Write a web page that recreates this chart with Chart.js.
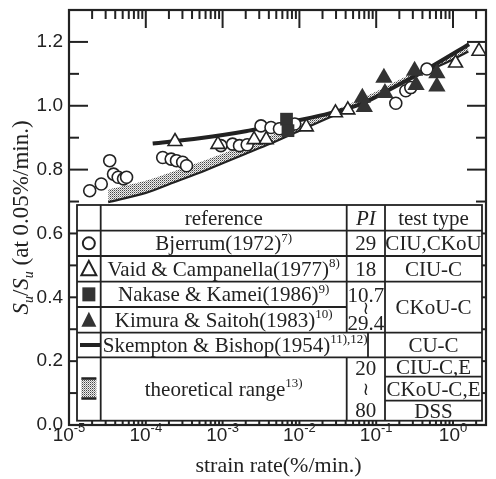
<!DOCTYPE html>
<html>
<head>
<meta charset="utf-8">
<script src="https://cdn.jsdelivr.net/npm/chart.js@4.4.0/dist/chart.umd.min.js"></script>
<style>
  body { margin: 0; background: #fff; }
  #wrap { width: 496px; height: 479px; }
</style>
</head>
<body>
<div id="wrap"><canvas id="rateChart" width="496" height="479"></canvas></div>
<script>
// values: x = strain rate (%/min.), y = Su/Su(0.05%/min.)
const bjerrumX = [1.86e-5, 2.63e-5, 3.39e-5, 3.80e-5, 4.37e-5, 5.13e-5, 5.62e-5, 1.66e-4, 2.14e-4, 2.51e-4, 3.02e-4, 3.39e-4,
  9.5e-4, 1.35e-3, 1.66e-3, 2.09e-3, 3.16e-3, 4.27e-3, 5.5e-3, 8.7e-3, 0.18, 0.243, 0.282, 0.457];
const bjerrumY = [0.734, 0.755, 0.828, 0.786, 0.776, 0.771, 0.776, 0.838, 0.833, 0.828, 0.823, 0.812,
  0.875, 0.88, 0.875, 0.878, 0.937, 0.932, 0.928, 0.943, 1.008, 1.047, 1.057, 1.115];

const vaidX = [2.4e-4, 8.7e-4, 2.57e-3, 3.7e-3, 0.0123, 0.0295, 0.0427, 1.08, 2.18];
const vaidY = [0.888, 0.879, 0.894, 0.894, 0.934, 0.978, 0.987, 1.134, 1.171];

const nakaseX = [6.8e-3, 7.1e-3];
const nakaseY = [0.958, 0.922];

const kimuraX = [0.066, 0.07, 0.126, 0.13, 0.316, 0.33, 0.617, 0.617];
const kimuraY = [1.025, 0.996, 1.088, 1.04, 1.11, 1.065, 1.102, 1.06];

const skemptonX = [1.23e-4, 5.0e-4, 2.0e-3, 9.1e-3, 0.0245, 0.063, 0.148, 0.5, 1.62];
const skemptonY = [0.882, 0.898, 0.92, 0.953, 0.976, 1.005, 1.05, 1.12, 1.193];

const theoryLowX = [3.24e-5, 1e-4, 2.04e-4, 5.0e-4, 1e-3, 2.0e-3, 4.07e-3, 0.01, 0.0316, 0.1, 0.316, 1, 1.585];
const theoryLowY = [0.698, 0.727, 0.755, 0.79, 0.82, 0.85, 0.88, 0.922, 0.975, 1.03, 1.09, 1.145, 1.17];
const theoryHighX = [2.75e-5, 1e-4, 2.04e-4, 5.0e-4, 1e-3, 3.16e-3, 0.01, 0.0316, 0.1, 0.316, 1, 1.585];
const theoryHighY = [0.734, 0.765, 0.79, 0.823, 0.85, 0.895, 0.942, 0.99, 1.045, 1.105, 1.16, 1.185];

const xDecades = [-5, -4, -3, -2, -1, 0];
const yTickLabels = ['0.0', '0.2', '0.4', '0.6', '0.8', '1.0', '1.2'];

const pts = (xs, ys) => xs.map((x, i) => ({ x: x, y: ys[i] }));

const INK = '#222';
const MARK = '#333';
const SERIF = '"Liberation Serif", "Times New Roman", serif';
const SANS = '"Liberation Sans", Arial, sans-serif';

const canvas = document.getElementById('rateChart');
const ctx = canvas.getContext('2d');

// dotted fill for the theoretical band
function makeStipple() {
  const c = document.createElement('canvas');
  c.width = 2; c.height = 2;
  const g = c.getContext('2d');
  g.fillStyle = '#eee'; g.fillRect(0, 0, 2, 2);
  g.fillStyle = '#444'; g.fillRect(0, 0, 1, 1);
  g.fillStyle = '#999'; g.fillRect(1, 1, 1, 1);
  return ctx.createPattern(c, 'repeat');
}
const stipple = makeStipple();

// text with superscripts / subscripts / italics
function richWidth(c, parts, size) {
  let w = 0;
  parts.forEach(p => {
    const s = p.sup || p.sub ? Math.round(size * 0.62) : size;
    c.font = (p.it ? 'italic ' : '') + s + 'px ' + (p.font || SERIF);
    w += c.measureText(p.t).width;
  });
  return w;
}
function drawRich(c, parts, x, y, size, align) {
  const w = richWidth(c, parts, size);
  let cx = align === 'left' ? x : x - w / 2;
  c.textAlign = 'left';
  c.textBaseline = 'alphabetic';
  parts.forEach(p => {
    const s = p.sup || p.sub ? Math.round(size * 0.62) : size;
    c.font = (p.it ? 'italic ' : '') + s + 'px ' + (p.font || SERIF);
    let dy = 0;
    if (p.sup) dy = -size * 0.42;
    if (p.sub) dy = size * 0.22;
    c.fillText(p.t, cx, y + dy);
    cx += c.measureText(p.t).width;
  });
}

function seg(c, x1, y1, x2, y2) {
  c.beginPath(); c.moveTo(x1, y1); c.lineTo(x2, y2); c.stroke();
}

function drawTable(c) {
  const L = 77, C1 = 100.7, C2 = 346.7, C3 = 385, R = 482;
  const rows = [205, 230.7, 256, 281.7, 307, 332.7, 357.3, 420.7];
  const mid = i => (rows[i] + rows[i + 1]) / 2;
  const fs = 21;
  const wave = '"DejaVu Serif", "DejaVu Sans", serif';

  c.save();
  c.fillStyle = '#fff';
  c.fillRect(L, rows[0], R - L, rows[7] - rows[0]);
  c.strokeStyle = INK;
  c.lineWidth = 1.8;
  c.strokeRect(L, rows[0], R - L, rows[7] - rows[0]);
  seg(c, C1, rows[0], C1, rows[7]);
  seg(c, C2, rows[0], C2, rows[5]);
  seg(c, C2, rows[6], C2, rows[7]);
  seg(c, 368, rows[5], 368, rows[6]);
  seg(c, C3, rows[0], C3, rows[7]);
  [1, 2, 3, 5, 6].forEach(i => seg(c, L, rows[i], R, rows[i]));
  seg(c, L, rows[4], C2, rows[4]);
  seg(c, C3, 376.7, R, 376.7);
  seg(c, C3, 400.7, R, 400.7);

  c.fillStyle = INK;
  const refC = (C1 + C2) / 2, piC = (C2 + C3) / 2, ttC = (C3 + R) / 2;
  const base = i => mid(i) + 7;
  drawRich(c, [{ t: 'reference' }], refC, base(0), fs);
  drawRich(c, [{ t: 'PI', it: true }], piC, base(0), fs);
  drawRich(c, [{ t: 'test type' }], ttC, base(0), fs);

  drawRich(c, [{ t: 'Bjerrum(1972)' }, { t: '7)', sup: true }], refC, base(1), fs);
  drawRich(c, [{ t: '29' }], piC, base(1), fs);
  drawRich(c, [{ t: 'CIU,CKoU' }], ttC, base(1), fs);

  drawRich(c, [{ t: 'Vaid & Campanella(1977)' }, { t: '8)', sup: true }], refC, base(2), fs);
  drawRich(c, [{ t: '18' }], piC, base(2), fs);
  drawRich(c, [{ t: 'CIU-C' }], ttC, base(2), fs);

  drawRich(c, [{ t: 'Nakase & Kamei(1986)' }, { t: '9)', sup: true }], refC, base(3), fs);
  drawRich(c, [{ t: 'Kimura & Saitoh(1983)' }, { t: '10)', sup: true }], refC, base(4), fs);
  drawRich(c, [{ t: '10.7' }], piC, base(3) + 1, fs);
  drawRich(c, [{ t: '\u2240', font: wave }], piC, rows[4] + 7, 18);
  drawRich(c, [{ t: '29.4' }], piC, base(4) + 3, fs);
  drawRich(c, [{ t: 'CKoU-C' }], ttC, rows[4] + 7, fs);

  drawRich(c, [{ t: 'Skempton & Bishop(1954)' }, { t: '11),12)', sup: true }], C1 + 2, base(5), fs, 'left');
  drawRich(c, [{ t: 'CU-C' }], ttC, base(5), fs);

  drawRich(c, [{ t: 'theoretical range' }, { t: '13)', sup: true }], refC, mid(6) + 7, fs);
  drawRich(c, [{ t: '20' }], piC, 375, fs);
  drawRich(c, [{ t: '\u2240', font: wave }], piC, 395, 18);
  drawRich(c, [{ t: '80' }], piC, 417, fs);
  drawRich(c, [{ t: 'CIU-C,E' }], ttC, 374, fs);
  drawRich(c, [{ t: 'CKoU-C,E' }], ttC, 396, fs);
  drawRich(c, [{ t: 'DSS' }], ttC, 418, fs);

  // symbol column
  const ix = (L + C1) / 2;
  c.lineWidth = 2;
  c.beginPath(); c.arc(ix, mid(1), 6, 0, Math.PI * 2); c.stroke();
  c.beginPath();
  c.moveTo(ix, mid(2) - 8); c.lineTo(ix + 7.5, mid(2) + 6.5); c.lineTo(ix - 7.5, mid(2) + 6.5); c.closePath();
  c.stroke();
  c.fillStyle = MARK;
  c.fillRect(ix - 6.5, mid(3) - 7, 13, 14);
  c.beginPath();
  c.moveTo(ix, mid(4) - 8); c.lineTo(ix + 7.5, mid(4) + 7); c.lineTo(ix - 7.5, mid(4) + 7); c.closePath();
  c.fill();
  c.lineWidth = 4;
  seg(c, L + 3, mid(5), C1, mid(5));
  c.fillStyle = stipple;
  c.fillRect(ix - 7.5, 378.5, 15, 20);
  c.lineWidth = 2.5;
  seg(c, ix - 7.5, 378.5, ix + 7.5, 378.5);
  seg(c, ix - 7.5, 398.5, ix + 7.5, 398.5);
  c.restore();
}

const frameAndTable = {
  id: 'frameAndTable',
  afterDraw(chart) {
    const c = chart.ctx;
    const a = chart.chartArea;
    const xs = chart.scales.x, ys = chart.scales.y;
    c.save();
    c.strokeStyle = INK;
    c.lineWidth = 2;

    // inward ticks on all four sides
    xDecades.forEach(e => {
      for (let m = 1; m <= 9; m++) {
        const v = m * Math.pow(10, e);
        if (v > xs.max) break;
        const px = xs.getPixelForValue(v);
        const len = m === 1 ? 18 : 9;
        seg(c, px, a.top, px, a.top + len);
        seg(c, px, a.bottom, px, a.bottom - len);
      }
    });
    for (let k = 1; k <= 12; k++) {
      const py = ys.getPixelForValue(k / 10);
      const len = k % 2 === 0 ? 19 : 10;
      seg(c, a.left, py, a.left + len, py);
      seg(c, a.right, py, a.right - len, py);
    }

    drawTable(c);

    c.strokeStyle = INK;
    c.lineWidth = 2.2;
    c.strokeRect(a.left, a.top, a.right - a.left, a.bottom - a.top);

    // x tick labels 10^n
    c.fillStyle = INK;
    xDecades.forEach(e => {
      const px = xs.getPixelForValue(Math.pow(10, e));
      c.font = '19px ' + SANS;
      const w1 = c.measureText('10').width;
      c.font = '13px ' + SANS;
      const w2 = c.measureText(String(e)).width;
      const x0 = px - (w1 + w2) / 2;
      c.textAlign = 'left';
      c.textBaseline = 'alphabetic';
      c.font = '19px ' + SANS;
      c.fillText('10', x0, a.bottom + 16);
      c.font = '13px ' + SANS;
      c.fillText(String(e), x0 + w1, a.bottom + 7);
    });

    // axis titles
    drawRich(c, [{ t: 'strain rate(%/min.)' }], (a.left + a.right) / 2 + 1, a.bottom + 47, 22);
    c.translate(28, (a.top + a.bottom) / 2);
    c.rotate(-Math.PI / 2);
    drawRich(c, [
      { t: 'S', it: true }, { t: 'u', it: true, sub: true }, { t: '/' },
      { t: 'S', it: true }, { t: 'u', it: true, sub: true }, { t: ' (at 0.05%/min.)' }
    ], 0, 0, 23);
    c.restore();
  }
};

const chart = new Chart(ctx, {
  type: 'scatter',
  data: {
    datasets: [{
      label: 'theory upper',
      data: pts(theoryHighX, theoryHighY),
      showLine: true,
      borderWidth: 0,
      borderColor: 'rgba(0,0,0,0)',
      pointRadius: 0,
      tension: 0.3,
      order: 10
    }, {
      label: 'theoretical range',
      data: pts(theoryLowX, theoryLowY),
      showLine: true,
      borderColor: INK,
      borderWidth: 2.2,
      backgroundColor: stipple,
      fill: '-1',
      pointRadius: 0,
      tension: 0.3,
      order: 9
    }, {
      label: 'Skempton & Bishop(1954)',
      data: pts(skemptonX, skemptonY),
      showLine: true,
      borderColor: INK,
      borderWidth: 4,
      pointRadius: 0,
      tension: 0.3,
      order: 8
    }, {
      label: 'Bjerrum(1972)',
      data: pts(bjerrumX, bjerrumY),
      pointStyle: 'circle',
      pointRadius: 6,
      borderWidth: 1.6,
      borderColor: INK,
      backgroundColor: '#fff',
      order: 5
    }, {
      label: 'Vaid & Campanella(1977)',
      data: pts(vaidX, vaidY),
      pointStyle: 'triangle',
      pointRadius: 8,
      borderWidth: 1.6,
      borderColor: INK,
      backgroundColor: '#fff',
      order: 4
    }, {
      label: 'Nakase & Kamei(1986)',
      data: pts(nakaseX, nakaseY),
      pointStyle: 'rect',
      pointRadius: 9,
      borderWidth: 0,
      borderColor: MARK,
      backgroundColor: MARK,
      order: 3
    }, {
      label: 'Kimura & Saitoh(1983)',
      data: pts(kimuraX, kimuraY),
      pointStyle: 'triangle',
      pointRadius: 10,
      borderWidth: 0,
      borderColor: MARK,
      backgroundColor: MARK,
      order: 2
    }]
  },
  options: {
    responsive: false,
    animation: false,
    layout: { padding: { top: 9, right: 9, left: 0, bottom: 0 } },
    plugins: {
      legend: { display: false },
      tooltip: { enabled: false }
    },
    scales: {
      x: {
        type: 'logarithmic',
        position: 'bottom',
        min: 1e-5,
        max: 2.69,
        grid: { display: false },
        border: { display: false },
        ticks: { display: false },
        afterFit: s => { s.height = 54; s.paddingLeft = 0; s.paddingRight = 0; }
      },
      y: {
        min: 0,
        max: 1.3,
        grid: { display: false, drawTicks: false },
        border: { display: false },
        ticks: {
          stepSize: 0.1,
          autoSkip: false,
          padding: 6,
          color: INK,
          font: { family: 'Liberation Sans', size: 19 },
          callback: v => {
            const k = Math.round(v * 10);
            return k % 2 === 0 ? (yTickLabels[k / 2] || '') : '';
          }
        },
        afterFit: s => { s.width = 69; s.paddingTop = 0; s.paddingBottom = 0; }
      }
    }
  },
  plugins: [frameAndTable]
});
</script>
</body>
</html>
